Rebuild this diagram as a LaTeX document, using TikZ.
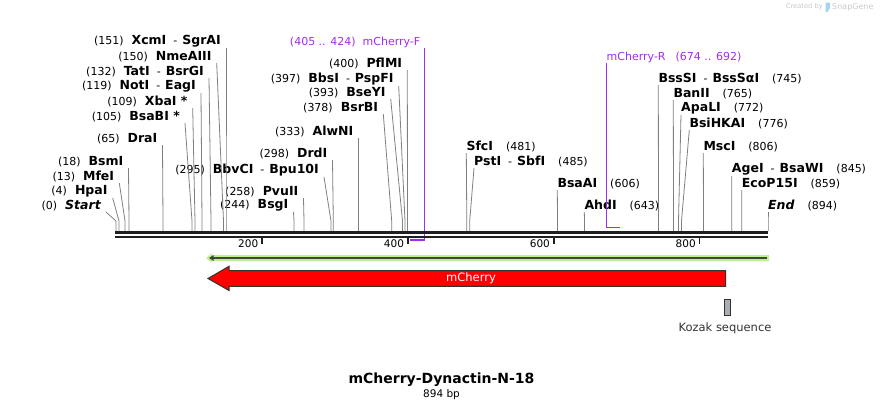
\documentclass[tikz,border=0pt]{standalone}
\usepackage{fontspec}
\setmainfont{DejaVu Sans}
\usetikzlibrary{arrows.meta}
\definecolor{rulerdark}{HTML}{1F1F1F}
\definecolor{sitegray}{HTML}{808080}
\definecolor{primerpurple}{HTML}{A12BF0}
\definecolor{orfgreen}{HTML}{BEF08E}
\definecolor{orfdark}{HTML}{3E463E}
\definecolor{featred}{HTML}{FF0000}
\definecolor{featedge}{HTML}{333333}
\definecolor{kozakgray}{HTML}{A9ADB4}
\definecolor{markgray}{HTML}{C9C9C9}
\definecolor{markblue}{HTML}{A6D4F2}
\newcommand{\enz}[1]{{\fontsize{12.5}{14}\selectfont\bfseries #1}}
\newcommand{\dsh}{\hspace{7pt}-\hspace{5pt}}
\tikzset{
  cutline/.style={draw=sitegray, line width=0.8pt},
  cutlbl/.style={font=\fontsize{11}{13}\selectfont, inner ysep=0.5pt, text=black},
  cutL/.style={cutlbl, anchor=south east, inner xsep=5pt},
  cutR/.style={cutlbl, anchor=south west, inner xsep=0pt},
  primer/.style={draw=primerpurple, line width=1.3pt},
  primerlbl/.style={text=primerpurple},
  ticklbl/.style={font=\fontsize{10.5}{12}\selectfont, anchor=east, inner sep=0pt}
}

\begin{document}
\begin{tikzpicture}[x=1pt, y=-1pt]
  \useasboundingbox (0,0) rectangle (884,410);
  % watermark
  \node[font=\fontsize{6.7}{8}\selectfont, text=markgray, anchor=east, inner sep=0pt] (wm-by) at (823,7) {Created by};
  \fill[markblue] (825.5,2.5) -- (830,2.5) -- (830,8) -- (827.5,12) -- (825.5,12) -- cycle;
  \node[font=\fontsize{8}{9}\selectfont, text=markgray, anchor=west, inner sep=0pt] (wm-sg) at (832,7) {SnapGene};

  % enzyme labels, left of their lines
  \node[cutL] (l-xcm) at (226,48) {(151)\hspace{8pt}\enz{XcmI}\dsh\enz{SgrAI}};
  \node[cutL] (l-nme) at (216.7,63) {(150)\hspace{8pt}\enz{NmeAIII}};
  \node[cutL] (l-tat) at (209,78) {(132)\hspace{8pt}\enz{TatI}\dsh\enz{BsrGI}};
  \node[cutL] (l-not) at (201,93) {(119)\hspace{8pt}\enz{NotI}\dsh\enz{EagI}};
  \node[cutL] (l-xba) at (192.7,108) {(109)\hspace{8pt}\enz{XbaI *}};
  \node[cutL] (l-bsb) at (185,123) {(105)\hspace{8pt}\enz{BsaBI *}};
  \node[cutL] (l-dra) at (162.5,145) {(65)\hspace{8pt}\enz{DraI}};
  \node[cutL] (l-bsm) at (128.5,168) {(18)\hspace{8pt}\enz{BsmI}};
  \node[cutL] (l-mfe) at (119.3,183) {(13)\hspace{8pt}\enz{MfeI}};
  \node[cutL] (l-hpa) at (112.7,198) {(4)\hspace{8pt}\enz{HpaI}};
  \node[cutL] (l-sta) at (106,212) {(0)\hspace{8pt}\enz{\itshape Start}};
  \node[cutL] (l-bbv) at (324,177) {(295)\hspace{8pt}\enz{BbvCI}\dsh\enz{Bpu10I}};
  \node[cutL] (l-drd) at (332.5,160) {(298)\hspace{8pt}\enz{DrdI}};
  \node[cutL] (l-pvu) at (303.5,198) {(258)\hspace{8pt}\enz{PvuII}};
  \node[cutL] (l-bsg) at (293.5,212) {(244)\hspace{8pt}\enz{BsgI}};
  \node[cutL] (l-alw) at (358.5,138) {(333)\hspace{8pt}\enz{AlwNI}};
  \node[cutL] (l-bsr) at (383.3,114) {(378)\hspace{8pt}\enz{BsrBI}};
  \node[cutL] (l-bse) at (390.7,99) {(393)\hspace{8pt}\enz{BseYI}};
  \node[cutL] (l-bbs) at (398.7,86) {(397)\hspace{8pt}\enz{BbsI}\dsh\enz{PspFI}};
  \node[cutL] (l-pfl) at (407.3,70) {(400)\hspace{8pt}\enz{PflMI}};

  % enzyme labels, right of their lines
  \node[cutR] (l-sfc) at (466.3,153) {\enz{SfcI}\hspace{13pt}(481)};
  \node[cutR] (l-pst) at (474,168) {\enz{PstI}\dsh\enz{SbfI}\hspace{13pt}(485)};
  \node[cutR] (l-bsa) at (557.3,190) {\enz{BsaAI}\hspace{13pt}(606)};
  \node[cutR] (l-ahd) at (584.3,212) {\enz{AhdI}\hspace{13pt}(643)};
  \node[cutR] (l-bss) at (658.3,85) {\enz{BssSI}\dsh\enz{BssSαI}\hspace{13pt}(745)};
  \node[cutR] (l-ban) at (673.3,100) {\enz{BanII}\hspace{13pt}(765)};
  \node[cutR] (l-apa) at (681,115) {\enz{ApaLI}\hspace{13pt}(772)};
  \node[cutR] (l-bsi) at (689.3,130) {\enz{BsiHKAI}\hspace{13pt}(776)};
  \node[cutR] (l-msc) at (703.3,153) {\enz{MscI}\hspace{13pt}(806)};
  \node[cutR] (l-age) at (731.7,176) {\enz{AgeI}\dsh\enz{BsaWI}\hspace{13pt}(845)};
  \node[cutR] (l-eco) at (741.7,190) {\enz{EcoP15I}\hspace{13pt}(859)};
  \node[cutR] (l-end) at (768,212) {\enz{\itshape End}\hspace{13pt}(894)};

  % cut site lines
  \foreach \n/\sx in {xcm/226, nme/223.5, tat/211, not/202, xba/195, bsb/192,
      dra/163, bsm/129, mfe/125, hpa/119, sta/116, bbv/331, drd/333.3, pvu/304,
      bsg/294, alw/358.5, bsr/391.7, bse/402.5, bbs/405, pfl/407.5} {
    \coordinate (s-\n) at (\sx,231);
    \draw[cutline] (s-\n) -- ++(0,-10) -- (l-\n.south east);
  }
  \foreach \n/\sx in {sfc/466.8, pst/469.7, bsa/557.5, ahd/584.5, bss/658.5,
      ban/673.5, apa/678.5, bsi/681.5, msc/703.5, age/731.8, eco/741.8, end/768} {
    \coordinate (s-\n) at (\sx,231);
    \draw[cutline] (s-\n) -- ++(0,-10) -- (l-\n.south west);
  }

  % primers
  \node[cutL, primerlbl, inner xsep=4pt] (l-pf) at (424.5,48) {(405 .. 424)\hspace{7pt}mCherry-F};
  \coordinate (pf-a) at (410,240);
  \coordinate (pf-b) at (424.5,240);
  \draw[primer] (pf-a) -- (pf-b) -- (l-pf.south east);
  \node[cutR, primerlbl] (l-pr) at (606.5,63) {mCherry-R\hspace{10pt}(674 .. 692)};
  \coordinate (pr-a) at (606.5,227.7);
  \coordinate (pr-b) at (620,227.7);
  \draw[primer] (l-pr.south west) -- (pr-a) -- (pr-b);

  % ruler
  \coordinate (r-a) at (115,232.3);
  \coordinate (r-b) at (768,232.3);
  \coordinate (r-c) at (115,236.7);
  \coordinate (r-d) at (768,236.7);
  \draw[rulerdark, line width=2.7pt] (r-a) -- (r-b);
  \draw[rulerdark, line width=2pt] (r-c) -- (r-d);
  \foreach \v/\x in {200/261.9, 400/407.7, 600/553.6, 800/699.4} {
    \coordinate (k-\v) at (\x,237.5);
    \draw[rulerdark, line width=1.8pt] (k-\v) -- ++(0,6);
    \node[ticklbl] (t-\v) at (\x-3.5,244) {\v};
  }

  % ORF
  \coordinate (orf-a) at (769,258);
  \coordinate (orf-b) at (206,258);
  \coordinate (orf-c) at (766.7,258);
  \coordinate (orf-d) at (209,258);
  \draw[orfgreen, line width=6pt, -{Triangle[length=6pt, width=9pt]}] (orf-a) -- (orf-b);
  \draw[orfdark, line width=2.2pt, -{Triangle[length=4.5pt, width=5.5pt]}] (orf-c) -- (orf-d);

  % mCherry feature
  \filldraw[fill=featred, draw=featedge, line width=1pt]
    (725.7,270.5) -- (229,270.5) -- (229,266.3) -- (208,278.5)
    -- (229,290.5) -- (229,286.3) -- (725.7,286.3) -- cycle;
  \node[font=\fontsize{11.5}{13}\selectfont, text=white] (mcherry) at (471,278) {mCherry};

  % Kozak
  \node[draw=featedge, fill=kozakgray, line width=1pt, minimum width=6pt,
        minimum height=16pt, inner sep=0pt] (kozak) at (727,307.5) {};
  \node[font=\fontsize{11.5}{13}\selectfont, text=featedge] (kozak-lbl) at (725,328) {Kozak sequence};

  % title
  \node[font=\fontsize{14}{16}\selectfont\bfseries] (title) at (441.5,380) {mCherry-Dynactin-N-18};
  \node[font=\fontsize{10.5}{12}\selectfont] (size) at (441.5,394.5) {894 bp};
\end{tikzpicture}
\end{document}
